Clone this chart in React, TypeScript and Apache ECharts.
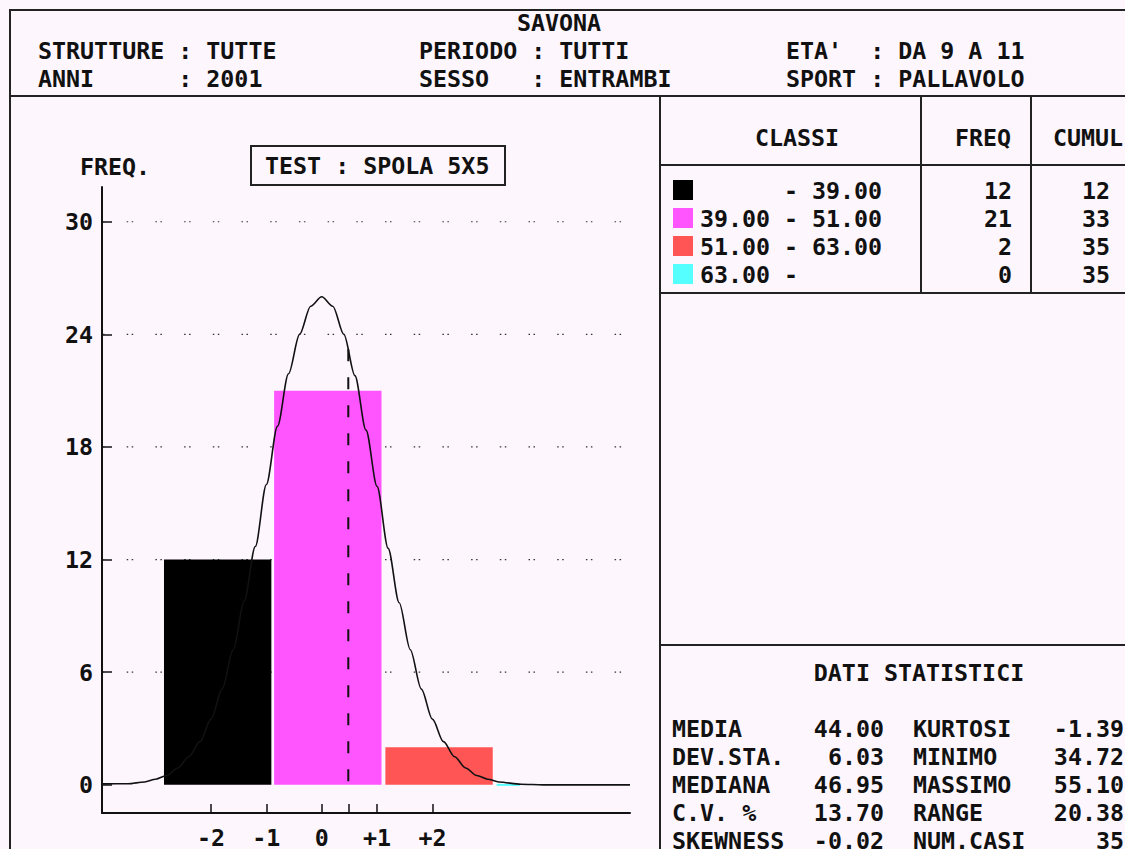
import React, { useEffect, useRef } from "react";
import * as echarts from "echarts";

const FAMILY = "'DejaVu Sans Mono', 'Liberation Mono', monospace";
const FSIZE = 23.3;
const FONT = `bold ${FSIZE}px ${FAMILY}`;
const BG = "#fdf6fd";
const INK = "#111111";
const RULE = "#222222";

// ---- header texts ----
const headerTitle = "SAVONA";
const headerCol1 = ["STRUTTURE : TUTTE", "ANNI      : 2001"];
const headerCol2 = ["PERIODO : TUTTI", "SESSO   : ENTRAMBI"];
const headerCol3 = ["ETA'  : DA 9 A 11", "SPORT : PALLAVOLO"];

// ---- chart texts ----
const yAxisName = "FREQ.";
const testTitle = "TEST : SPOLA 5X5";

// ---- classes table ----
const tableHeaders = ["CLASSI", "FREQ", "CUMUL"];
const classFrom = ["", "39.00", "51.00", "63.00"];
const classTo = ["39.00", "51.00", "63.00", ""];
const classColors = ["#000000", "#ff55ff", "#ff5555", "#55ffff"];
const classFreq = [12, 21, 2, 0];
const classCumul = [12, 33, 35, 35];

// bar extents on the axis (standard deviations from the mean)
const barStart = [-2.85, -0.86, 1.15, 3.16];
const barEnd = [-0.91, 1.08, 3.09, 3.58];

// normal curve (x in SD units, y in frequency)
const curveZ = [-3.97, -3.5, -3.2, -3.0, -2.8, -2.6, -2.4, -2.2, -2.0, -1.8, -1.6, -1.4, -1.2, -1.0, -0.8, -0.6, -0.4, -0.2, 0.0, 0.2, 0.4, 0.6, 0.8, 1.0, 1.2, 1.4, 1.6, 1.8, 2.0, 2.2, 2.4, 2.6, 2.8, 3.0, 3.2, 3.6, 4.0, 5.57];
const curveF = [0.05, 0.06, 0.15, 0.3, 0.5, 0.9, 1.5, 2.3, 3.5, 5.1, 7.2, 9.8, 12.7, 16.0, 19.1, 21.9, 24.0, 25.5, 26.0, 25.5, 24.0, 21.8, 18.9, 15.9, 12.6, 9.7, 7.2, 5.1, 3.5, 2.3, 1.5, 0.9, 0.5, 0.3, 0.15, 0.03, 0.0, 0.0];

const medianZ = 0.48;
const medianTop = 23.2;

const yTicks = [0, 6, 12, 18, 24, 30];
const xTicks = [-2, -1, 0, 1, 2];
const xTickMarks = [-2, -1, 0, 0.48, 1, 2];
const xMin = -3.97;
const xMax = 5.57;
const yMin = -1.5;
const yMax = 31.85;

// ---- statistics ----
const statsTitle = "DATI STATISTICI";
const statLabels1 = ["MEDIA", "DEV.STA.", "MEDIANA", "C.V. %", "SKEWNESS"];
const statValues1 = ["44.00", "6.03", "46.95", "13.70", "-0.02"];
const statLabels2 = ["KURTOSI", "MINIMO", "MASSIMO", "RANGE", "NUM.CASI"];
const statValues2 = ["-1.39", "34.72", "55.10", "20.38", "35"];

function txt(text: string, x: number, y: number, align: string = "left") {
  return {
    type: "text",
    x,
    y,
    silent: true,
    z: 10,
    style: {
      text,
      font: FONT,
      fill: INK,
      align,
      textAlign: align,
      verticalAlign: "middle",
      textVerticalAlign: "middle",
    },
  };
}

function ln(x1: number, y1: number, x2: number, y2: number, w = 2) {
  return {
    type: "line",
    silent: true,
    z: 9,
    shape: { x1, y1, x2, y2 },
    style: { stroke: RULE, lineWidth: w },
  };
}

export default function App() {
  const ref = useRef<HTMLDivElement>(null);

  useEffect(() => {
    if (!ref.current) return;
    const chart = echarts.init(ref.current, undefined, { renderer: "svg" });

    const graphics: any[] = [];
    // outer frame and rules
    graphics.push({
      type: "rect",
      silent: true,
      z: 9,
      shape: { x: 10, y: 10, width: 1130, height: 850 },
      style: { fill: "none", stroke: RULE, lineWidth: 2 },
    });
    graphics.push(ln(10, 96, 1130, 96));
    graphics.push(ln(660, 96, 660, 860));
    graphics.push(ln(660, 165, 1130, 165));
    graphics.push(ln(921, 96, 921, 293));
    graphics.push(ln(1031, 96, 1031, 293));
    graphics.push(ln(660, 293, 1130, 293));
    graphics.push(ln(660, 645, 1130, 645));
    graphics.push({
      type: "rect",
      silent: true,
      z: 9,
      shape: { x: 251, y: 146, width: 254, height: 39 },
      style: { fill: "none", stroke: RULE, lineWidth: 2 },
    });

    // header
    graphics.push(txt(headerTitle, 559, 22, "center"));
    headerCol1.forEach((t, i) => graphics.push(txt(t, 38, 50 + i * 28)));
    headerCol2.forEach((t, i) => graphics.push(txt(t, 419, 50 + i * 28)));
    headerCol3.forEach((t, i) => graphics.push(txt(t, 786, 50 + i * 28)));

    // chart titles
    graphics.push(txt(yAxisName, 80, 166));
    graphics.push(txt(testTitle, 265, 165));

    // table
    graphics.push(txt(tableHeaders[0], 797, 137, "center"));
    graphics.push(txt(tableHeaders[1], 983, 137, "center"));
    graphics.push(txt(tableHeaders[2], 1053, 137));
    classFreq.forEach((f, i) => {
      const y = 190 + i * 28;
      graphics.push({
        type: "rect",
        silent: true,
        z: 10,
        shape: { x: 673, y: y - 10, width: 20, height: 20 },
        style: { fill: classColors[i] },
      });
      if (classFrom[i]) graphics.push(txt(classFrom[i], 700, y));
      graphics.push(txt("-", 784, y));
      if (classTo[i]) graphics.push(txt(classTo[i], 812, y));
      graphics.push(txt(String(f), 1012, y, "right"));
      graphics.push(txt(String(classCumul[i]), 1110, y, "right"));
    });

    // statistics
    graphics.push(txt(statsTitle, 919, 672, "center"));
    statLabels1.forEach((l, i) => {
      const y = 728 + i * 28;
      graphics.push(txt(l, 672, y));
      graphics.push(txt(statValues1[i], 884, y, "right"));
      graphics.push(txt(statLabels2[i], 913, y));
      graphics.push(txt(statValues2[i], 1124, y, "right"));
    });

    const labelStyle = {
      color: INK,
      fontFamily: FAMILY,
      fontWeight: "bold" as const,
      fontSize: FSIZE,
    };

    chart.setOption({
      animation: false,
      backgroundColor: BG,
      grid: { left: 102, right: 495, top: 187, bottom: 34, containLabel: false },
      xAxis: {
        type: "value",
        min: xMin,
        max: xMax,
        axisLine: { show: true, onZero: false, lineStyle: { color: INK, width: 2 } },
        axisTick: {
          show: true,
          inside: true,
          length: 9,
          customValues: xTickMarks,
          lineStyle: { color: INK, width: 1.5 },
        },
        axisLabel: {
          ...labelStyle,
          margin: 13,
          customValues: xTicks,
          formatter: (v: number) => (v > 0 ? "+" + v : String(v)),
        },
        splitLine: { show: false },
      },
      yAxis: {
        type: "value",
        min: yMin,
        max: yMax,
        axisLine: { show: true, onZero: false, lineStyle: { color: INK, width: 2 } },
        axisTick: {
          show: true,
          inside: true,
          length: 10,
          customValues: yTicks,
          lineStyle: { color: INK, width: 1.5 },
        },
        axisLabel: { ...labelStyle, margin: 9, customValues: yTicks },
        splitLine: { show: false },
      },
      graphic: { elements: graphics },
      series: [
        {
          type: "custom",
          name: "grid",
          silent: true,
          z: 1,
          data: yTicks.filter((v) => v > 0),
          encode: { y: 0 },
          renderItem: (params: any, api: any) => {
            const v = api.value(0);
            const a = api.coord([xMin, v]);
            const b = api.coord([xMax, v]);
            return {
              type: "line",
              shape: { x1: a[0], y1: a[1], x2: b[0], y2: b[1] },
              style: {
                stroke: "#333333",
                lineWidth: 1.2,
                lineDash: [1.5, 3.5, 1.5, 22.2],
                lineDashOffset: 3.7,
              },
            };
          },
        },
        {
          type: "custom",
          name: "classi",
          silent: true,
          z: 2,
          data: classFreq.map((f, i) => [barStart[i], barEnd[i], f]),
          encode: { x: [0, 1], y: 2 },
          renderItem: (params: any, api: any) => {
            const s = api.coord([api.value(0), api.value(2)]);
            const e = api.coord([api.value(1), 0]);
            let y = s[1];
            let h = e[1] - s[1];
            if (h < 2) {
              y = e[1] - 1;
              h = 2;
            }
            return {
              type: "rect",
              shape: { x: s[0], y, width: e[0] - s[0], height: h },
              style: { fill: classColors[params.dataIndex] },
            };
          },
        },
        {
          type: "line",
          name: "normale",
          silent: true,
          z: 3,
          showSymbol: false,
          smooth: 0.3,
          smoothMonotone: "x",
          data: curveZ.map((z, i) => [z, curveF[i]]),
          lineStyle: { color: INK, width: 1.6 },
        },
        {
          type: "line",
          name: "mediana",
          silent: true,
          z: 4,
          showSymbol: false,
          data: [
            [medianZ, medianTop],
            [medianZ, 0],
          ],
          lineStyle: { color: INK, width: 2, type: [12, 16] },
        },
      ],
    });

    return () => chart.dispose();
  }, []);

  return (
    <div
      ref={ref}
      style={{ position: "fixed", left: 0, top: 0, width: 1125, height: 849, background: BG }}
    />
  );
}
